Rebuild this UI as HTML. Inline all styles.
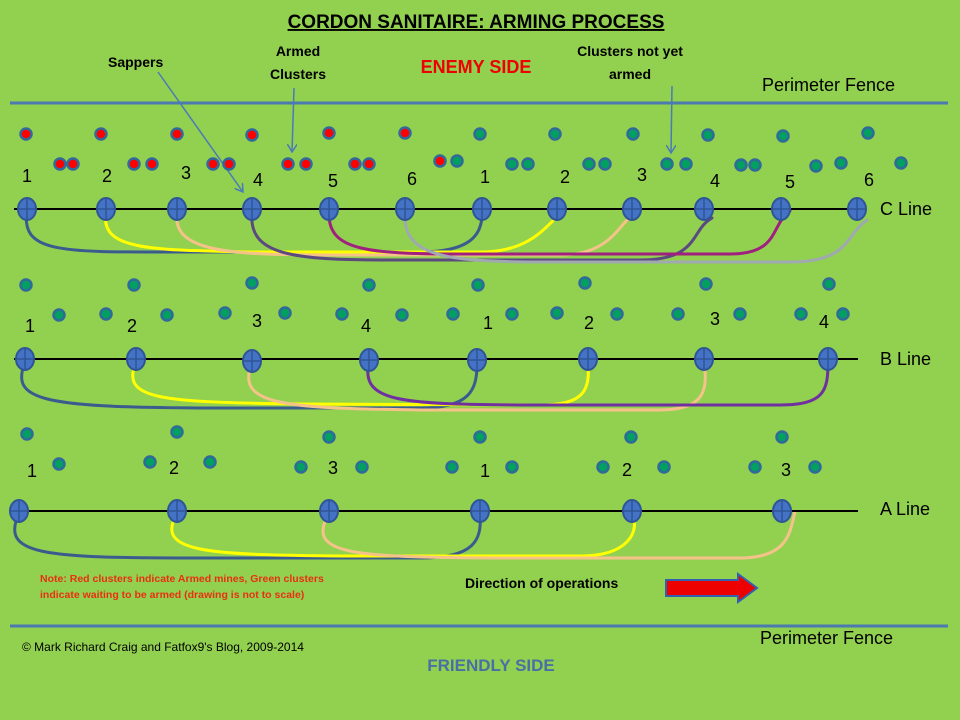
<!DOCTYPE html>
<html><head><meta charset="utf-8"><style>
html,body{margin:0;padding:0;background:#92D050;}
svg{display:block;font-family:"Liberation Sans",sans-serif;}
</style></head><body>
<svg width="960" height="720" viewBox="0 0 960 720" xmlns="http://www.w3.org/2000/svg">
<defs>
<g id="n"><ellipse cx="0" cy="0" rx="9" ry="11" fill="#4472C4" stroke="#2F5597" stroke-width="2"/><line x1="-8" y1="0" x2="8" y2="0" stroke="#2F5597" stroke-width="1.5"/><line x1="0" y1="-10" x2="0" y2="10" stroke="#2F5597" stroke-width="1.5"/></g>
<g id="r"><circle r="5.5" fill="#ff0000" stroke="#31699a" stroke-width="2.5"/></g>
<g id="g"><circle r="5.5" fill="#00a060" stroke="#31699a" stroke-width="2.5"/></g>
<marker id="ah" markerWidth="10" markerHeight="10" refX="8" refY="5" orient="auto" markerUnits="userSpaceOnUse"><path d="M0,0 L8,5 L0,10" fill="none" stroke="#4a7ab8" stroke-width="1.5"/></marker>
</defs>
<rect width="960" height="720" fill="#92D050"/>
<text x="476" y="28" text-anchor="middle" font-size="19" font-weight="bold" text-decoration="underline">CORDON SANITAIRE: ARMING PROCESS</text>
<line x1="10" y1="103" x2="948" y2="103" stroke="#4a7ab0" stroke-width="3"/>
<line x1="10" y1="626" x2="948" y2="626" stroke="#4a7ab0" stroke-width="3"/>
<text x="762" y="91" font-size="18">Perimeter Fence</text>
<text x="760" y="644" font-size="18">Perimeter Fence</text>
<text x="108" y="67" font-size="14" font-weight="bold">Sappers</text>
<text x="298" y="56" text-anchor="middle" font-size="14" font-weight="bold">Armed</text>
<text x="298" y="79" text-anchor="middle" font-size="14" font-weight="bold">Clusters</text>
<text x="476" y="73" text-anchor="middle" font-size="18" font-weight="bold" fill="#ee0000">ENEMY SIDE</text>
<text x="630" y="56" text-anchor="middle" font-size="14" font-weight="bold">Clusters not yet</text>
<text x="630" y="79" text-anchor="middle" font-size="14" font-weight="bold">armed</text>
<line x1="158" y1="72" x2="243" y2="192" stroke="#4a7ab8" stroke-width="1.5" marker-end="url(#ah)"/>
<line x1="294" y1="88" x2="292" y2="152" stroke="#4a7ab8" stroke-width="1.5" marker-end="url(#ah)"/>
<line x1="672" y1="86" x2="671" y2="153" stroke="#4a7ab8" stroke-width="1.5" marker-end="url(#ah)"/>

<!-- C line -->
<g fill="none" stroke-width="3" stroke-linecap="round">
<path d="M27,209 C20,255 60,252 200,252 L420,252 C470,252 482,235 482,214" stroke="#3B5B8F"/>
<path d="M106,213 C100,250 150,250 250,252 L480,252 C540,252 550,215 565,213" stroke="#ffff00"/>
<path d="M177,213 C172,252 230,255 330,255 L560,255 C615,255 620,218 636,214" stroke="#F5C38A"/>
<path d="M252,213 C248,258 300,260 400,260 L640,260 C700,260 690,230 712,218" stroke="#5B4A80"/>
<path d="M329,213 C328,252 370,254 470,254 L730,254 C780,254 770,225 790,211" stroke="#A02080"/>
<path d="M405,213 C402,258 450,262 550,262 L790,262 C850,262 845,235 867,220" stroke="#A0A8B0"/>
</g>
<line x1="14" y1="209" x2="858" y2="209" stroke="#000" stroke-width="2"/>
<g>
<use href="#n" x="27" y="209"/><use href="#n" x="106" y="209"/><use href="#n" x="177" y="209"/><use href="#n" x="252" y="209"/><use href="#n" x="329" y="209"/><use href="#n" x="405" y="209"/><use href="#n" x="482" y="209"/><use href="#n" x="557" y="209"/><use href="#n" x="632" y="209"/><use href="#n" x="704" y="209"/><use href="#n" x="781" y="209"/><use href="#n" x="857" y="209"/>
</g>
<g font-size="18">
<text x="22" y="182">1</text><text x="102" y="182">2</text><text x="181" y="179">3</text><text x="253" y="186">4</text><text x="328" y="187">5</text><text x="407" y="185">6</text><text x="480" y="183">1</text><text x="560" y="183">2</text><text x="637" y="181">3</text><text x="710" y="187">4</text><text x="785" y="188">5</text><text x="864" y="186">6</text>
</g>
<text x="880" y="215" font-size="18">C Line</text>
<use href="#r" x="26" y="134"/><use href="#r" x="101" y="134"/><use href="#r" x="177" y="134"/><use href="#r" x="252" y="135"/><use href="#r" x="329" y="133"/><use href="#r" x="405" y="133"/>
<use href="#g" x="480" y="134"/><use href="#g" x="555" y="134"/><use href="#g" x="633" y="134"/><use href="#g" x="708" y="135"/><use href="#g" x="783" y="136"/><use href="#g" x="868" y="133"/>
<use href="#r" x="60" y="164"/><use href="#r" x="73" y="164"/><use href="#r" x="134" y="164"/><use href="#r" x="152" y="164"/><use href="#r" x="213" y="164"/><use href="#r" x="229" y="164"/><use href="#r" x="288" y="164"/><use href="#r" x="306" y="164"/><use href="#r" x="355" y="164"/><use href="#r" x="369" y="164"/><use href="#r" x="440" y="161"/><use href="#g" x="457" y="161"/>
<use href="#g" x="512" y="164"/><use href="#g" x="528" y="164"/><use href="#g" x="589" y="164"/><use href="#g" x="605" y="164"/><use href="#g" x="667" y="164"/><use href="#g" x="686" y="164"/><use href="#g" x="741" y="165"/><use href="#g" x="755" y="165"/><use href="#g" x="816" y="166"/><use href="#g" x="841" y="163"/><use href="#g" x="901" y="163"/>

<!-- B line -->
<g fill="none" stroke-width="3" stroke-linecap="round">
<path d="M25,362 C10,400 40,407 200,408 L420,408 C470,408 477,390 477,364" stroke="#3B5B8F"/>
<path d="M136,362 C120,400 160,402 300,404 L540,405 C585,405 590,390 588,362" stroke="#ffff00"/>
<path d="M252,362 C235,405 280,408 420,410 L660,410 C705,410 708,390 704,362" stroke="#F5C38A"/>
<path d="M369,362 C360,402 400,404 520,405 L780,405 C825,405 828,390 828,362" stroke="#7030A0"/>
</g>
<line x1="14" y1="359" x2="858" y2="359" stroke="#000" stroke-width="2"/>
<use href="#n" x="25" y="359"/><use href="#n" x="136" y="359"/><use href="#n" x="252" y="361"/><use href="#n" x="369" y="360"/><use href="#n" x="477" y="360"/><use href="#n" x="588" y="359"/><use href="#n" x="704" y="359"/><use href="#n" x="828" y="359"/>
<g font-size="18">
<text x="25" y="332">1</text><text x="127" y="332">2</text><text x="252" y="327">3</text><text x="361" y="332">4</text><text x="483" y="329">1</text><text x="584" y="329">2</text><text x="710" y="325">3</text><text x="819" y="328">4</text>
</g>
<text x="880" y="365" font-size="18">B Line</text>
<use href="#g" x="26" y="285"/><use href="#g" x="134" y="285"/><use href="#g" x="252" y="283"/><use href="#g" x="369" y="285"/><use href="#g" x="478" y="285"/><use href="#g" x="585" y="283"/><use href="#g" x="706" y="284"/><use href="#g" x="829" y="284"/>
<use href="#g" x="59" y="315"/><use href="#g" x="106" y="314"/><use href="#g" x="167" y="315"/><use href="#g" x="225" y="313"/><use href="#g" x="285" y="313"/><use href="#g" x="342" y="314"/><use href="#g" x="402" y="315"/><use href="#g" x="453" y="314"/><use href="#g" x="512" y="314"/><use href="#g" x="557" y="313"/><use href="#g" x="617" y="314"/><use href="#g" x="678" y="314"/><use href="#g" x="740" y="314"/><use href="#g" x="801" y="314"/><use href="#g" x="843" y="314"/>

<!-- A line -->
<g fill="none" stroke-width="3" stroke-linecap="round">
<path d="M19,513 C0,555 40,558 200,558 L420,558 C475,558 482,540 480,514" stroke="#3B5B8F"/>
<path d="M177,513 C155,552 200,555 350,556 L580,556 C630,556 640,530 632,514" stroke="#ffff00"/>
<path d="M329,513 C305,555 350,557 500,558 L740,558 C790,558 790,530 795,512" stroke="#F5C38A"/>
</g>
<line x1="10" y1="511" x2="858" y2="511" stroke="#000" stroke-width="2"/>
<use href="#n" x="19" y="511"/><use href="#n" x="177" y="511"/><use href="#n" x="329" y="511"/><use href="#n" x="480" y="511"/><use href="#n" x="632" y="511"/><use href="#n" x="782" y="511"/>
<g font-size="18">
<text x="27" y="477">1</text><text x="169" y="474">2</text><text x="328" y="474">3</text><text x="480" y="477">1</text><text x="622" y="476">2</text><text x="781" y="476">3</text>
</g>
<text x="880" y="515" font-size="18">A Line</text>
<use href="#g" x="27" y="434"/><use href="#g" x="177" y="432"/><use href="#g" x="329" y="437"/><use href="#g" x="480" y="437"/><use href="#g" x="631" y="437"/><use href="#g" x="782" y="437"/>
<use href="#g" x="59" y="464"/><use href="#g" x="150" y="462"/><use href="#g" x="210" y="462"/><use href="#g" x="301" y="467"/><use href="#g" x="362" y="467"/><use href="#g" x="452" y="467"/><use href="#g" x="512" y="467"/><use href="#g" x="603" y="467"/><use href="#g" x="664" y="467"/><use href="#g" x="755" y="467"/><use href="#g" x="815" y="467"/>

<text x="40" y="582" font-size="10.5" font-weight="bold" fill="#e83010">Note: Red clusters indicate Armed mines, Green clusters</text>
<text x="40" y="598" font-size="10.5" font-weight="bold" fill="#e83010">indicate waiting to be armed (drawing is not to scale)</text>
<text x="465" y="588" font-size="14" font-weight="bold">Direction of operations</text>
<path d="M666,580 L738,580 L738,574 L757,588 L738,602 L738,596 L666,596 Z" fill="#ee0000" stroke="#3060b0" stroke-width="2"/>
<text x="22" y="651" font-size="12">© Mark Richard Craig and Fatfox9's Blog, 2009-2014</text>
<text x="491" y="671" text-anchor="middle" font-size="17" font-weight="bold" fill="#4a6fa5">FRIENDLY SIDE</text>
</svg>
</body></html>
